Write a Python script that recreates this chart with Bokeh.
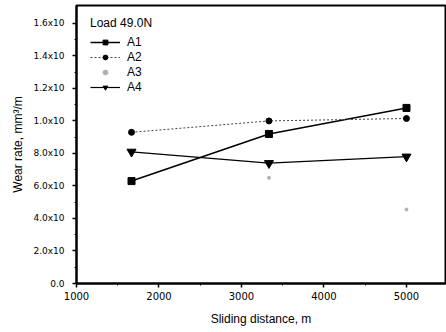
from bokeh.plotting import figure
from bokeh.models import FixedTicker, Legend, LegendItem, Range1d
from bokeh.embed import file_html
from bokeh.resources import INLINE

# ---- data ----
distance = [1667, 3333, 5000]
a1 = [6.3, 9.2, 10.8]
a2 = [9.3, 10.0, 10.15]
a4 = [8.1, 7.4, 7.8]
a3_distance = [3333, 5000]
a3 = [6.5, 4.55]

x_ticks = [1000, 2000, 3000, 4000, 5000]
x_minor = [1500, 2500, 3500, 4500, 5500]
y_ticks = [0, 2, 4, 6, 8, 10, 12, 14, 16]
y_minor = [1, 3, 5, 7, 9, 11, 13, 15]
y_tick_labels = ["0.0", "2.0x10", "4.0x10", "6.0x10", "8.0x10",
                 "1.0x10", "1.2x10", "1.4x10", "1.6x10"]

FONT = "Liberation Sans"

p = figure(width=446, height=332, output_backend="svg", toolbar_location=None,
           x_range=Range1d(1000, 5473), y_range=Range1d(0, 17.1),
           min_border_left=76, min_border_right=1, min_border_top=5,
           min_border_bottom=49)
p.grid.visible = False
p.background_fill_color = "white"
p.border_fill_color = "white"
p.outline_line_color = "black"
p.outline_line_width = 2

p.xaxis.ticker = FixedTicker(ticks=x_ticks, minor_ticks=x_minor)
p.yaxis.ticker = FixedTicker(ticks=y_ticks, minor_ticks=y_minor)
p.yaxis.major_label_overrides = {t: l for t, l in zip(y_ticks, y_tick_labels)}

for ax in (p.xaxis, p.yaxis):
    ax.axis_line_width = 2
    ax.axis_line_color = "black"
    ax.major_tick_in = 0
    ax.major_tick_out = 4
    ax.minor_tick_in = 0
    ax.minor_tick_out = 2
    ax.major_tick_line_width = 1.5
    ax.major_label_text_font = "DejaVu Sans"
    ax.major_label_text_color = "black"
    ax.axis_label_text_font = FONT
    ax.axis_label_text_font_style = "normal"
    ax.axis_label_text_color = "black"
    ax.axis_label_text_font_size = "12px"

p.xaxis.major_label_text_font_size = "10px"
p.yaxis.major_label_text_font_size = "9px"
p.xaxis.major_label_standoff = 4
p.yaxis.major_label_standoff = 8
p.xaxis.axis_label = "Sliding distance, m"
p.yaxis.axis_label = "Wear rate, mm\u00b3/m"
p.xaxis.axis_label_standoff = 9
p.yaxis.axis_label_standoff = 5

# series
l1 = p.line(distance, a1, line_color="black", line_width=1.5)
m1 = p.scatter(distance, a1, marker="square", size=7, color="black")

l2 = p.line(distance, a2, line_color="#444444", line_width=1, line_dash="2 2")
m2 = p.scatter(distance, a2, marker="circle", size=6, color="black")

m3 = p.scatter(a3_distance, a3, marker="circle", size=3, color="#b0b0b0")

l4 = p.line(distance, a4, line_color="black", line_width=1.2)
m4 = p.scatter(distance, a4, marker="inverted_triangle", size=9, color="black")

legend = Legend(items=[
    LegendItem(label="A1", renderers=[l1, m1]),
    LegendItem(label="A2", renderers=[l2, m2]),
    LegendItem(label="A3", renderers=[m3]),
    LegendItem(label="A4", renderers=[l4, m4]),
], location=(12, 187))
legend.title = "Load 49.0N"
legend.title_text_font = FONT
legend.title_text_font_size = "12px"
legend.title_text_font_style = "normal"
legend.title_text_color = "black"
legend.title_standoff = 5
legend.label_text_font = FONT
legend.label_text_font_size = "12px"
legend.label_text_color = "black"
legend.glyph_width = 30
legend.glyph_height = 12
legend.label_height = 12
legend.spacing = 1
legend.label_standoff = 7
legend.padding = 2
legend.margin = 0
legend.border_line_alpha = 0
legend.background_fill_alpha = 0
p.add_layout(legend, "center")

open("out.html", "w").write(file_html(p, INLINE))
